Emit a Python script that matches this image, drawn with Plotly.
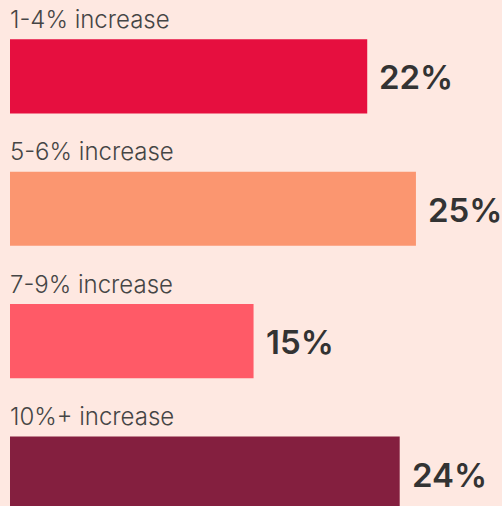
import plotly.graph_objects as go

categories = ["1-4% increase", "5-6% increase", "7-9% increase", "10%+ increase"]
values = [22, 25, 15, 24]
value_labels = ["22%", "25%", "15%", "24%"]
colors = ["#E60F3F", "#FB9670", "#FF5A67", "#841F3F"]

pos = list(range(len(categories)))

fig = go.Figure()
fig.add_trace(go.Bar(
    x=values, y=pos, orientation="h",
    marker=dict(color=colors, line=dict(width=0)),
    width=0.56, hoverinfo="skip",
))

for i, (c, v, t) in enumerate(zip(categories, values, value_labels)):
    fig.add_annotation(x=0, y=i - 0.43, xref="x", yref="y", text=c,
                       showarrow=False, xanchor="left", yanchor="middle",
                       xshift=-2,
                       font=dict(family="Inter", size=24, color="#454545", weight=300))
    fig.add_annotation(x=v, y=i, xref="x", yref="y", text=t,
                       showarrow=False, xanchor="left", yanchor="middle",
                       xshift=10, yshift=-1,
                       font=dict(family="Inter", size=33, color="#333333", weight=600))

fig.update_layout(
    width=502, height=506,
    margin=dict(l=10, r=0, t=0, b=0),
    paper_bgcolor="#FEE8E1", plot_bgcolor="#FEE8E1",
    showlegend=False,
    xaxis=dict(range=[0, 30.3], visible=False, fixedrange=True),
    yaxis=dict(range=[3.245, -0.577], visible=False, fixedrange=True),
)

fig.write_html("out.html")
